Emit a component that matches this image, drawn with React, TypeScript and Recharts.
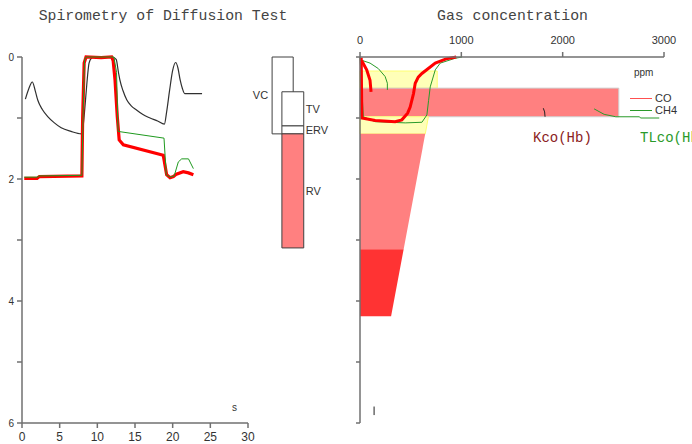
import React from "react";
import { ComposedChart, LineChart, Line, XAxis, YAxis, ReferenceArea } from "recharts";

// spirometry traces, time in s against volume in L (volume drawn downward)
const blackTrace = [
  { t: 0.45, v: 0.69 }, { t: 0.9, v: 0.52 }, { t: 1.37, v: 0.41 }, { t: 1.75, v: 0.55 },
  { t: 2.1, v: 0.71 }, { t: 2.7, v: 0.86 }, { t: 3.45, v: 0.98 }, { t: 4.3, v: 1.08 },
  { t: 5.2, v: 1.16 }, { t: 6.5, v: 1.22 }, { t: 7.9, v: 1.26 }, { t: 8.05, v: 1.2 },
  { t: 8.3, v: 0.9 }, { t: 8.6, v: 0.45 }, { t: 8.9, v: 0.1 }, { t: 9.2, v: 0.02 },
  { t: 9.6, v: 0 }, { t: 12.0, v: 0 }, { t: 12.5, v: 0.04 }, { t: 12.8, v: 0.25 },
  { t: 13.0, v: 0.38 }, { t: 13.4, v: 0.55 }, { t: 13.9, v: 0.7 }, { t: 14.5, v: 0.8 },
  { t: 15.2, v: 0.87 }, { t: 16.0, v: 0.94 }, { t: 17.0, v: 1.0 }, { t: 18.0, v: 1.05 },
  { t: 18.9, v: 1.1 }, { t: 19.2, v: 0.9 }, { t: 19.6, v: 0.54 }, { t: 20.0, v: 0.22 },
  { t: 20.4, v: 0.09 }, { t: 20.7, v: 0.18 }, { t: 21.0, v: 0.38 }, { t: 21.3, v: 0.52 },
  { t: 21.6, v: 0.6 }, { t: 23.9, v: 0.6 },
];

const redTrace = [
  { t: 0.3, v: 1.99 }, { t: 2.0, v: 1.99 }, { t: 2.3, v: 1.96 }, { t: 7.95, v: 1.95 },
  { t: 8.05, v: 1.0 }, { t: 8.25, v: 0.1 }, { t: 8.5, v: 0 }, { t: 10.5, v: 0.01 },
  { t: 11.9, v: 0 }, { t: 12.1, v: 0.06 }, { t: 12.35, v: 0.38 }, { t: 12.65, v: 0.98 },
  { t: 12.9, v: 1.36 }, { t: 13.45, v: 1.44 }, { t: 18.75, v: 1.61 }, { t: 19.2, v: 1.93 },
  { t: 19.65, v: 1.98 }, { t: 20.1, v: 1.96 }, { t: 20.5, v: 1.92 }, { t: 21.4, v: 1.88 },
  { t: 22.1, v: 1.9 }, { t: 22.75, v: 1.93 },
];

const greenTrace = [
  { t: 0.3, v: 1.97 }, { t: 2.0, v: 1.97 }, { t: 2.3, v: 1.95 }, { t: 7.95, v: 1.94 },
  { t: 8.1, v: 1.0 }, { t: 8.3, v: 0.05 }, { t: 8.5, v: 0 }, { t: 12.2, v: 0 },
  { t: 12.55, v: 0.25 }, { t: 12.75, v: 1.22 }, { t: 18.85, v: 1.33 }, { t: 19.15, v: 1.93 },
  { t: 19.65, v: 1.97 }, { t: 20.2, v: 1.95 }, { t: 20.75, v: 1.72 }, { t: 21.2, v: 1.67 },
  { t: 22.1, v: 1.67 }, { t: 22.75, v: 1.83 },
];

const TIME_TICKS = [0, 5, 10, 15, 20, 25, 30];
const VOLUME_TICKS = [0, 1, 2, 3, 4, 5, 6];
const PPM_TICKS = [0, 1000, 2000, 3000];

// lung volumes (L)
const LUNG_LABELS = ["VC", "TV", "ERV", "RV"];
const LUNG_FROM = [0, 0.57, 1.13, 1.26];
const LUNG_TO = [1.26, 1.13, 1.26, 3.13];

// gas concentration bands: volume range (L) and ppm at top / bottom edge
const BAND_FROM = [0.23, 0.51, 0.98, 1.26, 3.15];
const BAND_TO = [0.51, 0.98, 1.26, 3.15, 4.25];
const BAND_PPM_TOP = [762, 2554, 675, 644, 431];
const BAND_PPM_BOTTOM = [762, 2554, 644, 431, 307];

// concentration curves, ppm against volume
const coHook = [
  { ppm: 17, v: 0.06 }, { ppm: 66, v: 0.21 }, { ppm: 99, v: 0.38 }, { ppm: 109, v: 0.57 },
];
const coCurve = [
  { ppm: 12, v: 0.01 }, { ppm: 15, v: 0.5 }, { ppm: 18, v: 1.0 }, { ppm: 150, v: 1.04 },
  { ppm: 347, v: 1.06 }, { ppm: 413, v: 1.03 }, { ppm: 470, v: 0.92 }, { ppm: 495, v: 0.82 },
  { ppm: 528, v: 0.6 }, { ppm: 545, v: 0.43 }, { ppm: 575, v: 0.33 }, { ppm: 611, v: 0.27 },
  { ppm: 743, v: 0.1 }, { ppm: 850, v: 0.03 }, { ppm: 950, v: 0 },
];
const ch4Hook = [
  { ppm: 10, v: 0.05 }, { ppm: 99, v: 0.1 }, { ppm: 181, v: 0.19 }, { ppm: 248, v: 0.32 },
  { ppm: 270, v: 0.43 }, { ppm: 270, v: 0.54 },
];
const ch4Curve = [
  { ppm: 0, v: 0 }, { ppm: 33, v: 0.98 }, { ppm: 149, v: 1.06 }, { ppm: 446, v: 1.08 },
  { ppm: 611, v: 1.07 }, { ppm: 660, v: 0.95 }, { ppm: 677, v: 0.71 }, { ppm: 693, v: 0.49 },
  { ppm: 743, v: 0.21 }, { ppm: 792, v: 0.1 }, { ppm: 941, v: 0.02 }, { ppm: 1007, v: 0 },
];
const ch4Tail = [
  { ppm: 2310, v: 0.85 }, { ppm: 2409, v: 0.94 }, { ppm: 2525, v: 0.98 }, { ppm: 2755, v: 0.98 },
  { ppm: 2772, v: 1.0 }, { ppm: 2953, v: 1.0 },
];
const kcoMark = [{ ppm: 1809, v: 0.84 }, { ppm: 1822, v: 0.9 }, { ppm: 1826, v: 0.98 }];
const bottomMark = [{ ppm: 139, v: 5.73 }, { ppm: 139, v: 5.87 }];

// styles
const AXIS = { stroke: "#707070", strokeWidth: 1.5 };
const TICK_FONT = "'Liberation Sans Narrow', 'Liberation Sans', Arial, sans-serif";
const MONO = "'Liberation Mono', 'DejaVu Sans Mono', monospace";
// lung volume boxes sit to the right of the time axis (positions in the time scale)
const LUNG_X1 = [33.2, 34.5, 34.5, 34.5];
const LUNG_X2 = [36.0, 37.4, 37.4, 37.4];
const LUNG_FILL = ["#ffffff", "#ffffff", "#ffffff", "#ff8080"];
const LUNG_LABEL_POS = ["left", "right", "right", "right"];
const BAND_FILL = ["#ffffb8", "#ff8080", "#ffffb8", "#ff8080", "#ff3333"];
const BAND_STROKE = ["#ffff70", "#d0d0d0", "#ffff70", "none", "none"];

const trapezoid = (top: number, bottom: number, fill: string, stroke: string) => (props: any) => {
  const { x, y, width, height } = props;
  const max = Math.max(top, bottom);
  const xt = x + (width * top) / max;
  const xb = x + (width * bottom) / max;
  return (
    <polygon
      points={`${x},${y} ${xt},${y} ${xb},${y + height} ${x},${y + height}`}
      fill={fill}
      stroke={stroke}
      strokeWidth={1}
    />
  );
};

const abs = (left: number, top: number, extra: React.CSSProperties = {}): React.CSSProperties => ({
  position: "absolute",
  left,
  top,
  whiteSpace: "nowrap",
  ...extra,
});

export default function App() {
  return (
    <div
      style={{
        position: "absolute",
        left: 0,
        top: 0,
        width: 692,
        height: 444,
        overflow: "hidden",
        background: "#fff",
        fontFamily: TICK_FONT,
      }}
    >
      <div style={abs(0, 7, { width: 326, textAlign: "center", fontFamily: MONO, fontSize: 14.8, lineHeight: "18px", color: "#444" })}>
        Spirometry of Diffusion Test
      </div>
      <div style={abs(412, 7, { width: 201, textAlign: "center", fontFamily: MONO, fontSize: 14.8, lineHeight: "18px", color: "#444" })}>
        Gas concentration
      </div>

      <div style={abs(0, 0)}>
        <LineChart width={340} height={444} margin={{ top: 57, right: 92, bottom: 0, left: 0 }}>
          <XAxis
            dataKey="t"
            type="number"
            domain={[0, 30]}
            ticks={TIME_TICKS}
            height={21}
            axisLine={AXIS}
            tickLine={AXIS}
            tickSize={5}
            tickMargin={4}
            tick={{ fontSize: 12, fill: "#333", fontFamily: TICK_FONT }}
          />
          <YAxis
            type="number"
            domain={[0, 6]}
            reversed
            ticks={VOLUME_TICKS}
            width={22}
            axisLine={AXIS}
            tickLine={AXIS}
            tickSize={5}
            tickMargin={3}
            tickFormatter={(v: number) => (v % 2 === 0 ? String(v) : "")}
            tick={{ fontSize: 10, fill: "#333", fontFamily: TICK_FONT }}
          />
          {LUNG_LABELS.map((name, i) => (
            <ReferenceArea
              key={name}
              x1={LUNG_X1[i]}
              x2={LUNG_X2[i]}
              y1={LUNG_FROM[i]}
              y2={LUNG_TO[i]}
              ifOverflow="visible"
              fill={LUNG_FILL[i]}
              fillOpacity={1}
              stroke="#404040"
              strokeWidth={1}
              label={{
                value: name,
                position: LUNG_LABEL_POS[i] as any,
                offset: i === 0 ? 4 : 2,
                fontSize: 11,
                fill: "#333",
                fontFamily: TICK_FONT,
              }}
            />
          ))}
          <Line data={blackTrace} dataKey="v" type="monotone" stroke="#303030" strokeWidth={1.2} dot={false} activeDot={false} isAnimationActive={false} />
          <Line data={redTrace} dataKey="v" type="linear" stroke="#ff0000" strokeWidth={3.2} dot={false} activeDot={false} isAnimationActive={false} />
          <Line data={greenTrace} dataKey="v" type="linear" stroke="#1f9a1f" strokeWidth={1} dot={false} activeDot={false} isAnimationActive={false} />
        </LineChart>
      </div>
      <div style={abs(232, 402, { fontSize: 10, color: "#333" })}>s</div>

      <div style={abs(340, 0)}>
        <ComposedChart width={352} height={444} margin={{ top: 37, right: 28, bottom: 21, left: 0 }}>
          <XAxis
            dataKey="ppm"
            type="number"
            orientation="top"
            domain={[0, 3000]}
            ticks={PPM_TICKS}
            height={20}
            axisLine={AXIS}
            tickLine={AXIS}
            tickSize={5}
            tickMargin={8}
            tick={{ fontSize: 11, fill: "#333", fontFamily: TICK_FONT }}
          />
          <YAxis
            type="number"
            domain={[0, 6]}
            reversed
            ticks={VOLUME_TICKS}
            width={20}
            axisLine={AXIS}
            tickLine={AXIS}
            tickSize={4}
            tickFormatter={() => ""}
          />
          {BAND_FROM.map((from, i) => (
            <ReferenceArea
              key={`band-${i}`}
              x1={0}
              x2={Math.max(BAND_PPM_TOP[i], BAND_PPM_BOTTOM[i])}
              y1={from}
              y2={BAND_TO[i]}
              shape={trapezoid(BAND_PPM_TOP[i], BAND_PPM_BOTTOM[i], BAND_FILL[i], BAND_STROKE[i])}
            />
          ))}
          <Line data={ch4Hook} dataKey="v" type="linear" stroke="#2a9a2a" strokeWidth={1} dot={false} activeDot={false} isAnimationActive={false} />
          <Line data={ch4Curve} dataKey="v" type="linear" stroke="#2a9a2a" strokeWidth={1} dot={false} activeDot={false} isAnimationActive={false} />
          <Line data={ch4Tail} dataKey="v" type="linear" stroke="#2a9a2a" strokeWidth={1} dot={false} activeDot={false} isAnimationActive={false} />
          <Line data={coHook} dataKey="v" type="linear" stroke="#ff0000" strokeWidth={3} dot={false} activeDot={false} isAnimationActive={false} />
          <Line data={coCurve} dataKey="v" type="linear" stroke="#ff0000" strokeWidth={3} dot={false} activeDot={false} isAnimationActive={false} />
          <Line data={kcoMark} dataKey="v" type="linear" stroke="#202020" strokeWidth={1} dot={false} activeDot={false} isAnimationActive={false} />
          <Line data={bottomMark} dataKey="v" type="linear" stroke="#202020" strokeWidth={1} dot={false} activeDot={false} isAnimationActive={false} />
        </ComposedChart>
      </div>

      <div style={abs(634, 67, { fontSize: 10, color: "#333" })}>ppm</div>
      <div style={abs(630, 98, { width: 22, height: 0, borderTop: "1.5px solid #ff5050" })} />
      <div style={abs(655, 92, { fontSize: 11, lineHeight: "12px", color: "#333" })}>CO</div>
      <div style={abs(630, 110, { width: 22, height: 0, borderTop: "1.5px solid #2a9a2a" })} />
      <div style={abs(655, 104, { fontSize: 11, lineHeight: "12px", color: "#333" })}>CH4</div>
      <div style={abs(533, 130, { fontFamily: MONO, fontSize: 14, lineHeight: "16px", color: "#8b2222" })}>Kco(Hb)</div>
      <div style={abs(640, 130, { fontFamily: MONO, fontSize: 14, lineHeight: "16px", color: "#2a9a2a" })}>TLco(Hb)</div>
    </div>
  );
}
